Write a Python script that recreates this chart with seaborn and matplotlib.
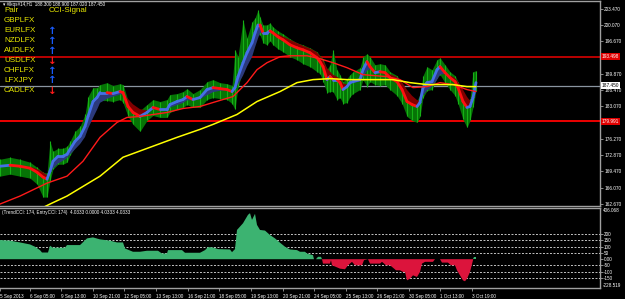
import matplotlib
matplotlib.use("Agg")
import matplotlib.pyplot as plt
import numpy as np
import pandas as pd
import seaborn as sns

# ---------------- data ----------------
bar = [0, 10, 20, 30, 37, 43, 47, 50, 53, 58, 63, 67, 70, 75, 80, 85, 88, 93, 97, 100,
       107, 113, 120, 123, 128, 133, 140, 147, 153, 160, 167, 170, 177, 183, 187, 193, 200, 207, 213, 220,
       227, 232, 235, 238, 243, 247, 252, 255, 258, 260, 263, 267, 270, 273, 278, 283, 290, 297, 303, 310,
       317, 320, 323, 327, 330, 333, 337, 340, 343, 347, 350, 353, 360, 363, 367, 370, 375, 380, 385, 390,
       397, 402, 407, 412, 417, 420, 423, 427, 432, 437, 440, 445, 450, 455, 458, 463, 467, 470, 473, 476]

fast_ma = [170.57, 170.78, 170.57, 170.16, 169.32, 168.28, 167.87, 169.53, 171.62, 172.66,
           172.66, 173.07, 174.11, 175.78, 176.82, 178.90, 180.99, 184.11, 184.94, 185.98,
           185.98, 185.77, 186.19, 185.98, 183.07, 181.82, 180.99, 181.82, 182.86, 182.44,
           182.44, 183.48, 184.11, 184.52, 185.15, 184.52, 184.94, 186.61, 187.02, 186.81,
           186.61, 186.19, 187.02, 189.31, 192.23, 194.31, 196.39, 198.47, 200.14, 200.14,
           198.47, 198.47, 198.89, 198.47, 197.64, 197.02, 195.97, 195.35, 194.93, 194.31,
           193.27, 192.44, 191.40, 188.69, 189.31, 188.69, 188.69, 188.06, 186.61, 187.23,
           188.06, 188.27, 188.69, 190.77, 192.44, 191.40, 190.15, 190.35, 190.15, 189.10,
           188.27, 186.61, 184.11, 183.48, 183.07, 183.90, 187.02, 188.06, 188.27, 190.77,
           191.40, 190.15, 189.10, 188.27, 187.02, 184.11, 182.86, 183.07, 184.94, 188.06]

bar_high = [172.03, 172.45, 172.03, 171.41, 170.36, 169.32, 169.12, 175.78, 173.70, 174.32,
            174.32, 174.74, 175.78, 177.86, 178.90, 181.40, 185.15, 187.02, 187.02, 187.65,
            188.06, 187.44, 187.85, 187.65, 184.31, 183.07, 182.23, 183.48, 184.52, 184.11,
            184.52, 185.57, 185.77, 186.19, 186.81, 185.77, 186.61, 188.27, 188.69, 188.06,
            187.85, 187.44, 194.93, 193.48, 201.18, 197.43, 200.76, 201.60, 203.26, 201.80,
            200.14, 200.14, 200.56, 199.72, 198.89, 198.27, 197.22, 196.39, 195.97, 195.35,
            194.52, 193.68, 193.06, 190.77, 191.81, 194.93, 190.77, 189.73, 188.27, 188.90,
            189.73, 190.35, 191.19, 193.48, 194.10, 193.48, 191.81, 192.02, 191.81, 190.35,
            189.52, 187.85, 185.36, 184.73, 184.31, 185.57, 189.52, 191.40, 190.77, 192.85,
            193.27, 191.81, 190.35, 189.52, 188.27, 185.36, 184.11, 184.73, 190.35, 190.56]

bar_low = [168.49, 168.91, 168.49, 168.08, 166.83, 164.12, 164.12, 167.45, 169.95, 170.99,
           170.99, 171.41, 172.86, 174.53, 175.57, 177.65, 179.74, 182.44, 183.27, 184.31,
           184.31, 184.11, 184.52, 183.90, 180.99, 179.32, 177.86, 180.15, 181.19, 180.78,
           180.78, 181.82, 182.44, 182.86, 183.48, 182.86, 182.86, 184.52, 184.94, 184.73,
           184.52, 183.69, 182.44, 187.23, 190.56, 192.64, 194.73, 196.81, 198.06, 198.06,
           196.39, 195.97, 196.81, 195.97, 195.14, 194.52, 193.48, 192.85, 192.02, 191.40,
           190.35, 189.94, 188.27, 185.98, 186.19, 186.19, 184.52, 184.94, 183.69, 183.90,
           185.15, 185.77, 186.61, 188.69, 187.23, 188.27, 187.65, 187.44, 187.65, 186.61,
           185.36, 183.69, 180.99, 180.15, 179.74, 180.99, 184.94, 186.40, 186.61, 189.10,
           189.73, 188.06, 186.61, 185.36, 183.69, 180.36, 178.69, 180.15, 182.86, 186.40]

red_ma_bar = [0, 20, 47, 67, 83, 100, 117, 127, 140, 167, 183, 200, 213, 233, 247, 257,
              267, 280, 290, 307, 320, 333, 347, 363, 387, 400, 413, 427, 440, 453, 467, 476]
red_ma = [162.66, 164.33, 167.04, 168.49, 171.62, 176.61, 179.74, 180.78, 180.99, 181.82,
          182.65, 183.07, 183.90, 185.15, 188.06, 190.77, 192.23, 193.48, 193.68, 193.68,
          193.06, 192.23, 191.19, 189.73, 189.31, 188.69, 187.02, 187.23, 188.06, 187.65,
          186.61, 186.19]

yellow_ma_bar = [40, 50, 67, 100, 123, 150, 177, 200, 213, 237, 257, 280, 297, 313, 330,
                 347, 367, 393, 410, 427, 453, 467, 476]
yellow_ma = [161.62, 162.66, 164.33, 168.49, 172.45, 174.53, 176.61, 178.28, 179.32, 181.40,
             184.11, 186.19, 188.06, 188.69, 188.90, 188.69, 188.69, 188.69, 188.06, 187.65,
             187.65, 187.23, 187.23]

cci_bar = [0, 10, 20, 30, 35, 40, 42, 48, 50, 53, 65, 67, 80, 87, 93, 100, 110, 117, 123, 125,
           133, 140, 147, 158, 162, 167, 168, 182, 185, 200, 205, 208, 213, 218, 230, 232, 235, 237, 243, 248,
           250, 252, 255, 257, 260, 265, 270, 275, 280, 285, 290, 297, 300, 305, 307, 313, 314, 316, 318, 321,
           322, 323, 330, 331, 332, 340, 345, 348, 352, 355, 362, 364, 368, 370, 380, 382, 386, 390, 392, 396,
           400, 403, 405, 407, 410, 413, 417, 420, 422, 425, 433, 435, 440, 442, 448, 451, 455, 457, 460, 463,
           465, 467, 470, 473, 474, 476]
cci = [152, 147, 133, 117, 99, 72, 53, 53, 107, 91, 91, 112, 112, 165, 173, 157, 147, 133, 133, 85,
       59, 59, 67, 67, 45, 45, 72, 72, 51, 51, 72, 96, 93, 80, 77, 56, 80, 232, 285, 352,
       365, 312, 360, 272, 232, 227, 192, 165, 131, 99, 77, 72, 59, 59, 45, 32, 0, 0, 19, 19,
       0, -35, -35, -8, -48, -75, -80, -48, -21, -48, -48, -8, 0, -35, -35, -21, -48, -48, -61, -88,
       -88, -101, -101, -168, -155, -128, -141, -101, -35, -21, -21, 0, 0, -27, -27, -48, -48, -88, -128, -168,
       -175, -155, -101, -8, 19, 19]

level_hi = 193.498
level_lo = 179.991
last_price = 187.450
price_ticks = [203.47, 200.07, 196.67, 193.27, 189.87, 186.47, 183.07,
               179.67, 176.27, 172.87, 169.47, 166.07, 162.67]
cci_max, cci_min = 406.068, -228.519
cci_levels = [200, 150, 100, 50, -50, -100, -150]
cci_tick_vals = [200, 150, 100, 50, 0, -50, -100, -150]
cci_tick_labels = ["200", "150", "100", "50", "0.00", "-50", "-100", "-150"]

time_tick_bar = [0, 30, 61.3, 93, 124.3, 156, 187.7, 219.3, 251, 282.7, 314.3,
                 346, 377.3, 409, 440.3, 472]
time_labels = ["5 Sep 2013", "6 Sep 05:00", "9 Sep 13:00", "10 Sep 21:00", "12 Sep 05:00",
               "13 Sep 13:00", "16 Sep 21:00", "18 Sep 05:00", "19 Sep 13:00", "20 Sep 21:00",
               "24 Sep 05:00", "25 Sep 13:00", "26 Sep 21:00", "30 Sep 05:00", "1 Oct 13:00",
               "3 Oct 19:00"]

pairs = ["GBPLFX", "EURLFX", "NZDLFX", "AUDLFX", "USDLFX", "CHFLFX", "LFXJPY", "CADLFX"]
signals = ["", "up", "up", "up", "down", "up", "up", "down"]

title = "\u25be #lkqs#14,H1  188.300 188.900 187.020 187.450"
cci_title = "(TrendCCI: 174, EntryCCI: 174)  4.0333 0.0000 4.0333 4.0333"

# ---------------- style ----------------
sns.set_theme(style="dark", rc={"axes.facecolor": "black", "figure.facecolor": "black",
                                "axes.grid": False})
plt.rcParams['font.family'] = ['Liberation Sans', 'DejaVu Sans']

W, H = 625, 299
fig = plt.figure(figsize=(W / 100, H / 100), dpi=100)
fig.patch.set_facecolor('black')


def fx(x):
    return x / W


def fy(y):
    return 1 - y / H


GRAY = '#a0a0a0'
BLUE = '#4470e6'
RED = '#ff1010'

ax = fig.add_axes([0, fy(206), 600 / W, (206 - 1) / H])
axc = fig.add_axes([0, fy(288), 600 / W, (288 - 208) / H])

for a in (ax, axc):
    a.set_facecolor('black')
    a.set_xlim(0, 600)
    a.spines['left'].set_visible(False)
    for s in ['top', 'right', 'bottom']:
        a.spines[s].set_color(GRAY)
        a.spines[s].set_linewidth(1.0)
    a.grid(False)

# ---------------- main price panel ----------------
ax.set_ylim(162.25, 205.14)
x = np.array(bar, dtype=float)
fast = np.array(fast_ma)
slow = pd.Series(fast).ewm(span=4, adjust=False).mean().values

ax.axhline(level_hi, color='#c80000', lw=1.3, zorder=1.5)
ax.axhline(level_lo, color='#ff0000', lw=1.3, zorder=1.5)
ax.axhline(last_price, color='#8a95a0', lw=0.9, zorder=1.5)

ax.fill_between(x, bar_low, bar_high, color='#067406', lw=0, zorder=2)
ax.vlines(x, bar_low, bar_high, color='#16b016', lw=0.8, zorder=2)

ax.fill_between(x, fast, slow, where=slow >= fast, interpolate=True,
                color='#800000', lw=0, zorder=3)
ax.fill_between(x, fast, slow, where=slow < fast, interpolate=True,
                color='#2c3a7c', lw=0, zorder=3)

for i in range(len(x) - 1):
    c = BLUE if fast[i + 1] >= fast[i] else RED
    ax.plot(x[i:i + 2], fast[i:i + 2], color=c, lw=2.0, solid_capstyle='round', zorder=4)

sns.lineplot(x=red_ma_bar, y=red_ma, ax=ax, color='#ff1a1a', lw=1.0, zorder=5)
sns.lineplot(x=yellow_ma_bar, y=yellow_ma, ax=ax, color='#ffff00', lw=1.1, zorder=5)

ax.set_xticks([])
ax.set_xlabel('')
ax.set_ylabel('')
ax.yaxis.tick_right()
ax.set_yticks(price_ticks)
# labels hidden behind the level boxes are left blank
covered = {193.27, 179.67}
ax.set_yticklabels(["" if v in covered else f"{v:.3f}" for v in price_ticks])
ax.tick_params(axis='y', labelsize=3.4, length=2, width=0.6, pad=1,
               color=GRAY, labelcolor='white', right=True, left=False)

ytr = ax.get_yaxis_transform()
ax.text(1.003, level_hi, f"{level_hi:.3f}", transform=ytr, fontsize=3.4, color='white',
        va='center', ha='left', zorder=10,
        bbox=dict(boxstyle='square,pad=0.2', fc='#e00000', ec='none'))
ax.text(1.003, level_lo, f"{level_lo:.3f}", transform=ytr, fontsize=3.4, color='white',
        va='center', ha='left', zorder=10,
        bbox=dict(boxstyle='square,pad=0.2', fc='#e00000', ec='none'))
ax.text(1.003, last_price, f"{last_price:.3f}", transform=ytr, fontsize=3.4, color='black',
        va='center', ha='left', zorder=10,
        bbox=dict(boxstyle='square,pad=0.2', fc='white', ec='none'))

# ---------------- CCI panel ----------------
axc.set_ylim(cci_min, cci_max)
cx = np.array(cci_bar, dtype=float)
cv = np.array(cci, dtype=float)
for lv in cci_levels:
    axc.axhline(lv, color='#c4c4c4', lw=0.7, ls=(0, (2, 1.6)), zorder=1)
axc.fill_between(cx, 0, cv, where=cv >= 0, interpolate=True, color='#3cb371', lw=0, zorder=2)
axc.fill_between(cx, 0, cv, where=cv <= 0, interpolate=True, color='#dc143c', lw=0, zorder=2)

axc.yaxis.tick_right()
axc.set_yticks(cci_tick_vals)
axc.set_yticklabels(cci_tick_labels)
axc.tick_params(axis='y', labelsize=3.3, length=2, width=0.6, pad=1,
                color=GRAY, labelcolor='white', right=True, left=False)
axc.text(1.004, 1.0, f"{cci_max:.3f}", transform=axc.transAxes, fontsize=3.3,
         color='white', va='top', ha='left')
axc.text(1.004, 0.0, f"{cci_min:.3f}", transform=axc.transAxes, fontsize=3.3,
         color='white', va='bottom', ha='left')

axc.set_xticks(time_tick_bar)
axc.set_xticklabels(time_labels)
for lbl in axc.get_xticklabels():
    lbl.set_horizontalalignment('left')
axc.tick_params(axis='x', labelsize=3.3, length=2.5, width=0.6, pad=1.5,
                color=GRAY, labelcolor='white', bottom=True)
axc.set_xlabel('')
axc.set_ylabel('')

# ---------------- texts ----------------
fig.text(fx(3), fy(4.5), title, color='white', fontsize=3.3, va='center', ha='left')
fig.text(fx(2), fy(212.5), cci_title, color='white', fontsize=3.3, va='center', ha='left')

YEL = '#e8e800'
fig.text(fx(4), fy(10), "Pair", color=YEL, fontsize=5.8, va='center', ha='left')
fig.text(fx(49), fy(10), "CCI-Signal", color=YEL, fontsize=5.8, va='center', ha='left')
for k, (p, s) in enumerate(zip(pairs, signals)):
    yy = 20.5 + 10 * k
    fig.text(fx(4), fy(yy), p, color=YEL, fontsize=5.8, va='center', ha='left', zorder=20)
    if s == "up":
        fig.text(fx(52), fy(yy), "\u2191", color='#1a5cff', fontsize=7.5, fontweight='bold',
                 family='DejaVu Sans', va='center', ha='center', zorder=20)
    elif s == "down":
        fig.text(fx(52), fy(yy), "\u2193", color='#ff1a1a', fontsize=7.5, fontweight='bold',
                 family='DejaVu Sans', va='center', ha='center', zorder=20)

fig.savefig('out.png', dpi=100, facecolor='black')
